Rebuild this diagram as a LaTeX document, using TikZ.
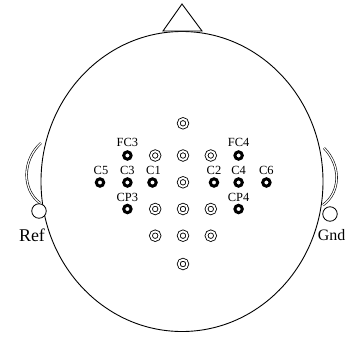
\documentclass[tikz,border=0pt]{standalone}
\usepackage{fontspec}
\setmainfont{Liberation Serif}
\begin{document}
\begin{tikzpicture}[x=1bp,y=-1bp,
  headline/.style={line width=0.9bp},
  bold/.style={circle, draw, line width=3bp, minimum size=7.4bp, inner sep=0pt},
  ring/.style={circle, draw, line width=0.85bp, double=white, double distance=1.9bp, minimum size=8.6bp, inner sep=0pt},
  elab/.style={anchor=base, inner sep=0pt, font=\fontsize{12.5}{12.5}\selectfont},
  side/.style={anchor=base, inner sep=0pt, font=\fontsize{18}{18}\selectfont},
  ear/.style={line width=0.6bp, double=white, double distance=1.2bp},
  pin/.style={circle, draw, fill=white, line width=0.8bp, minimum size=14.5bp, inner sep=0pt}]
\useasboundingbox (0,0) rectangle (346,339);
\fill[white] (0,0) rectangle (346,339);
% ears
\draw[ear] (41,143) .. controls (22,160) and (22,190) .. (40,203);
\draw[ear] (324,148) .. controls (341,165) and (341,192) .. (323,205);
% head
\draw[headline] (182,181.5) ellipse [x radius=141bp, y radius=150bp];
% nose
\draw[headline, fill=white] (182,4) -- (163,31) -- (202,31) -- cycle;
% reference / ground pins
\node[pin] (ref) at (39,211) {};
\node[pin] (gnd) at (330,214) {};
\node[side] (refl) at (32,241) {Ref};
\node[side, anchor=base east, font=\fontsize{16}{16}\selectfont] (gndl) at (345.5,240) {Gnd};
% concentric electrodes
\node[ring] (e1) at (183,123.3) {};
\node[ring] (e2) at (155.2,155.5) {};
\node[ring] (e3) at (183,155.5) {};
\node[ring] (e4) at (210.8,155.5) {};
\node[ring] (e5) at (183,182.3) {};
\node[ring] (e6) at (155.2,209) {};
\node[ring] (e7) at (183,209) {};
\node[ring] (e8) at (210.8,209) {};
\node[ring] (e9) at (155.2,235.7) {};
\node[ring] (e10) at (183,235.7) {};
\node[ring] (e11) at (210.8,235.7) {};
\node[ring] (e12) at (183,264) {};
% labelled electrodes
\node[bold] (FC3) at (127.4,155.5) {};
\node[bold] (FC4) at (238.6,155.5) {};
\node[bold] (C5) at (100,182.5) {};
\node[bold] (C3) at (127.4,182.5) {};
\node[bold] (C1) at (152.5,182.5) {};
\node[bold] (C2) at (214,182.5) {};
\node[bold] (C4) at (238.6,182.5) {};
\node[bold] (C6) at (266.4,182.5) {};
\node[bold] (CP3) at (127.4,209) {};
\node[bold] (CP4) at (238.6,209) {};
\node[elab] (lFC3) at (127.4,146.7) {FC3};
\node[elab] (lFC4) at (238.6,146.7) {FC4};
\node[elab] (lC5) at (101,174.3) {C5};
\node[elab] (lC3) at (127.4,174.3) {C3};
\node[elab] (lC1) at (153.5,174.3) {C1};
\node[elab] (lC2) at (214,174.3) {C2};
\node[elab] (lC4) at (238.6,174.3) {C4};
\node[elab] (lC6) at (266.4,174.3) {C6};
\node[elab] (lCP3) at (127.4,201.5) {CP3};
\node[elab] (lCP4) at (238.6,201.5) {CP4};
\end{tikzpicture}
\end{document}
